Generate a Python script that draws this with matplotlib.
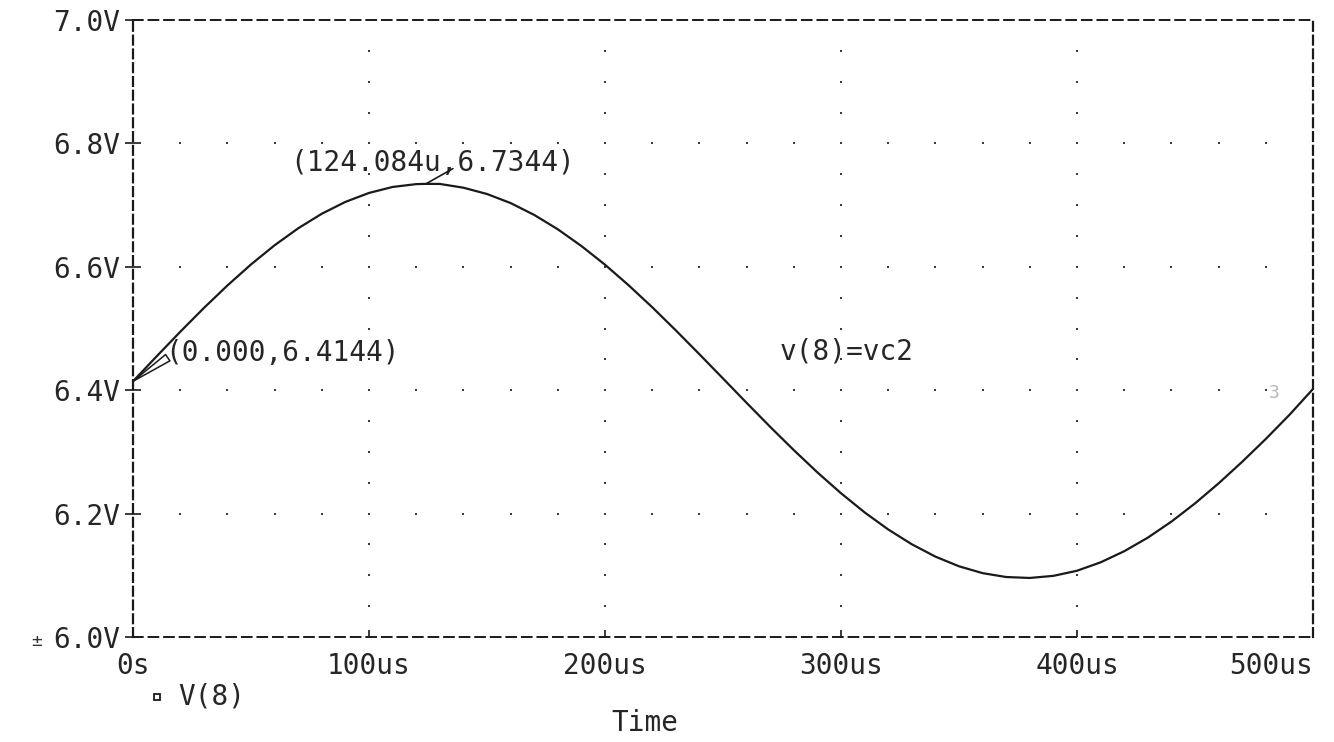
import matplotlib
matplotlib.use("Agg")
import matplotlib.pyplot as plt
from matplotlib.lines import Line2D

# Transient trace of node 8 (V(8) = vc2), time in microseconds
time_us = [0, 10, 20, 30, 40, 50, 60, 70, 80, 90, 100, 110, 120, 124.084,
           130, 140, 150, 160, 170, 180, 190, 200, 210, 220, 230, 240, 250,
           260, 270, 280, 290, 300, 310, 320, 330, 340, 350, 360, 370, 380,
           390, 400, 410, 420, 430, 440, 450, 460, 470, 480, 490, 500]
v8 = [6.4144, 6.4548, 6.4946, 6.5331, 6.5697, 6.6038, 6.6349, 6.6624, 6.6860,
      6.7052, 6.7197, 6.7294, 6.7340, 6.7344,
      6.7343, 6.7282, 6.7180, 6.7033, 6.6841, 6.6608, 6.6337, 6.6034, 6.5701,
      6.5345, 6.4970, 6.4583, 6.4190, 6.3795, 6.3406, 6.3029, 6.2668, 6.2330,
      6.2020, 6.1743, 6.1503, 6.1303, 6.1146, 6.1035, 6.0972, 6.0957,
      6.0991, 6.1074, 6.1210, 6.1390, 6.1610, 6.1870, 6.2165, 6.2490, 6.2840,
      6.3210, 6.3600, 6.4020]

x_ticks = [0, 100, 200, 300, 400, 500]
x_labels = ["0s", "100us", "200us", "300us", "400us", "500us"]
y_ticks = [6.0, 6.2, 6.4, 6.6, 6.8, 7.0]
y_labels = ["6.0V", "6.2V", "6.4V", "6.6V", "6.8V", "7.0V"]

cursor_start = (time_us[0], v8[0])
cursor_peak = (time_us[13], v8[13])

FONT = "DejaVu Sans Mono"
FS = 20
INK = "#1a1a1a"
TXT = "#262626"

fig = plt.figure(figsize=(13.34, 7.42), dpi=100)
ax = fig.add_axes([133 / 1334, 105 / 742, 1180 / 1334, 617 / 742])
ax.set_xlim(0, 500)
ax.set_ylim(6.0, 7.0)

# dashed plot frame
for side in ("left", "right"):
    ax.spines[side].set_linestyle((0, (4, 2.2)))
    ax.spines[side].set_linewidth(1.6)
    ax.spines[side].set_color(INK)
for side in ("top", "bottom"):
    ax.spines[side].set_linestyle((0, (5, 3)))
    ax.spines[side].set_linewidth(1.4)
    ax.spines[side].set_color(INK)

# dotted grid: dots along each major grid line
gx, gy = [], []
for yv in y_ticks[1:-1]:
    for k in range(1, 25):
        gx.append(k * 20)
        gy.append(yv)
for xv in x_ticks[1:-1]:
    for k in range(1, 20):
        gx.append(xv)
        gy.append(6.0 + k * 0.05)
ax.plot(gx, gy, linestyle="none", marker="s", markersize=2.0,
        color="#3a3a3a", markeredgewidth=0)

# the trace
ax.plot(time_us, v8, color=INK, linewidth=1.6, solid_joinstyle="round")

# ticks and labels
ax.set_xticks(x_ticks)
ax.set_xticklabels(x_labels, fontfamily=FONT, fontsize=FS, color=TXT)
ax.get_xticklabels()[-1].set_horizontalalignment("right")
ax.set_yticks(y_ticks)
ax.set_yticklabels(y_labels, fontfamily=FONT, fontsize=FS, color=TXT)
ax.tick_params(axis="x", direction="in", length=5, width=1.2, pad=11,
               colors=INK)
ax.tick_params(axis="y", direction="inout", length=11, width=1.2, pad=4,
               colors=INK)
for lbl in ax.get_xticklabels() + ax.get_yticklabels():
    lbl.set_color(TXT)

# cursor readouts
ax.text(66.5, 6.768, "(124.084u,6.7344)", fontfamily=FONT, fontsize=FS,
        color=TXT, ha="left", va="center")
ax.annotate("", xy=cursor_peak, xytext=(19.5, 11), textcoords="offset points",
            arrowprops=dict(arrowstyle="-", color=INK, lw=1.2,
                            shrinkA=0, shrinkB=0))
ax.text(13.5, 6.460, "(0.000,6.4144)", fontfamily=FONT, fontsize=FS,
        color=TXT, ha="left", va="center")
ax.annotate("", xy=cursor_start, xytext=(25, 17), textcoords="offset points",
            arrowprops=dict(arrowstyle="wedge,tail_width=0.55,shrink_factor=0.5",
                            fc="white", ec=INK, lw=1.1,
                            shrinkA=0, shrinkB=0))

ax.text(274, 6.462, "v(8)=vc2", fontfamily=FONT, fontsize=FS,
        color=TXT, ha="left", va="center")
ax.text(483.5, 6.395, "3", fontfamily=FONT, fontsize=13,
        color="#b8b8b8", ha="center", va="center")

# small marker before the bottom axis value
ax.text(-0.082, -0.006, "\u00b1", transform=ax.transAxes, fontfamily=FONT,
        fontsize=13, color="#333333", ha="center", va="center")

# trace legend and axis title
ax.add_line(Line2D([0.0203], [-0.0972], transform=ax.transAxes, marker="s",
                   markersize=5, markerfacecolor="white",
                   markeredgecolor=INK, markeredgewidth=1.3,
                   linestyle="none", clip_on=False))
ax.text(0.038, -0.0972, "V(8)", transform=ax.transAxes, fontfamily=FONT,
        fontsize=FS, color=TXT, ha="left", va="center")
ax.text(0.434, -0.139, "Time", transform=ax.transAxes, fontfamily=FONT,
        fontsize=FS, color=TXT, ha="center", va="center")

fig.savefig("out.png", dpi=100, facecolor="white")
